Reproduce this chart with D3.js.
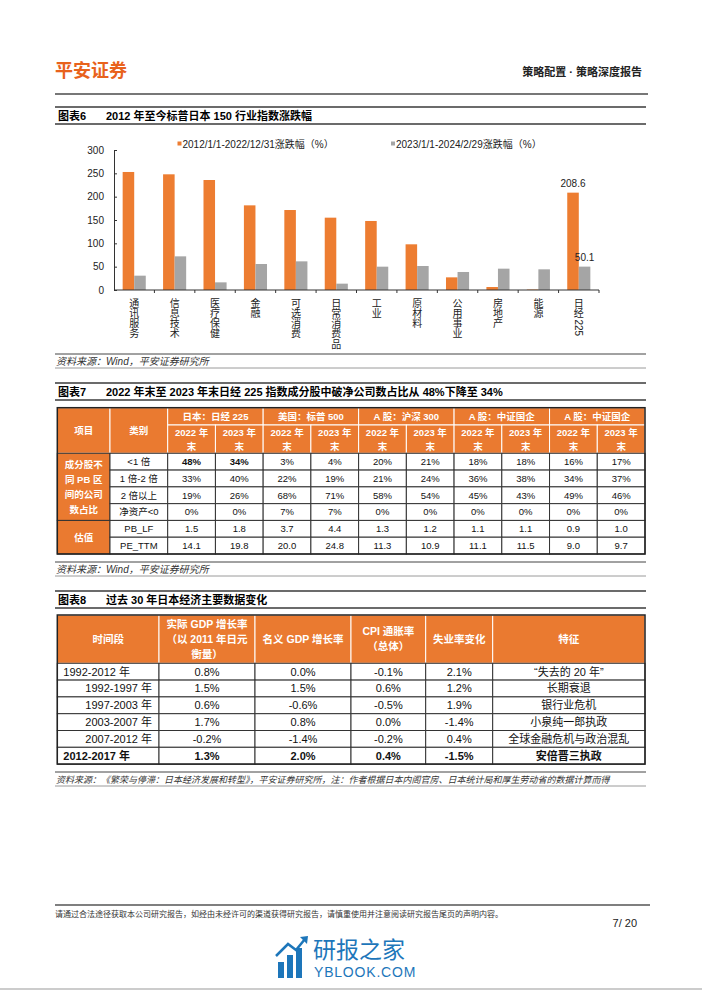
<!DOCTYPE html>
<html>
<head>
<meta charset="utf-8">
<script src="https://cdn.jsdelivr.net/npm/d3@7"></script>
<style>
  body { margin: 0; background: #fff; }
  svg { display: block; font-family: "Liberation Sans", Arial, "Noto Sans CJK SC", sans-serif; }
</style>
</head>
<body>
<svg id="page" width="702" height="991"></svg>
<script>
// ---- chart 6 data
const sectors = ["通讯服务", "信息技术", "医疗保健", "金融", "可选消费", "日常消费品", "工业", "原材料", "公用事业", "房地产", "能源", "日经225"];
const chg2012 = [252.9, 247.9, 235.7, 181.4, 171.4, 155.0, 147.9, 97.9, 27.1, 6.4, 1.0, 208.6];
const chg2023 = [30.7, 72.1, 16.4, 55.7, 61.4, 13.6, 50.0, 51.4, 38.6, 45.7, 44.3, 50.1];
const seriesNames = ["2012/1/1-2022/12/31涨跌幅（%）", "2023/1/1-2024/2/29涨跌幅（%）"];
const yTicks = [0, 50, 100, 150, 200, 250, 300];
const labelled = "日经225";

// ---- table 7 data
const t7Groups = ["日本：日经 225", "美国：标普 500", "A 股：沪深 300", "A 股：中证国企", "A 股：中证国企"];
const t7Years = ["2022 年", "2023 年"];
const t7Cats = ["<1 倍", "1 倍-2 倍", "2 倍以上", "净资产<0", "PB_LF", "PE_TTM"];
const t7Rows = [
  ["48%", "34%", "3%", "4%", "20%", "21%", "18%", "18%", "16%", "17%"],
  ["33%", "40%", "22%", "19%", "21%", "24%", "36%", "38%", "34%", "37%"],
  ["19%", "26%", "68%", "71%", "58%", "54%", "45%", "43%", "49%", "46%"],
  ["0%", "0%", "7%", "7%", "0%", "0%", "0%", "0%", "0%", "0%"],
  ["1.5", "1.8", "3.7", "4.4", "1.3", "1.2", "1.1", "1.1", "0.9", "1.0"],
  ["14.1", "19.8", "20.0", "24.8", "11.3", "10.9", "11.1", "11.5", "9.0", "9.7"]
];

// ---- table 8 data
const t8Head = [["时间段"], ["实际 GDP 增长率", "（以 2011 年日元", "衡量）"], ["名义 GDP 增长率"], ["CPI 通胀率", "（总体）"], ["失业率变化"], ["特征"]];
const t8Periods = ["1992-2012 年", "1992-1997 年", "1997-2003 年", "2003-2007 年", "2007-2012 年", "2012-2017 年"];
const t8SubPeriod = [false, true, true, true, true, false];
const realGdp = ["0.8%", "1.5%", "0.6%", "1.7%", "-0.2%", "1.3%"];
const nomGdp = ["0.0%", "1.5%", "-0.6%", "0.8%", "-1.4%", "2.0%"];
const cpi = ["-0.1%", "0.6%", "-0.5%", "0.0%", "-0.2%", "0.4%"];
const unemp = ["2.1%", "1.2%", "1.9%", "-1.4%", "0.4%", "-1.5%"];
const features = ["“失去的 20 年”", "长期衰退", "银行业危机", "小泉纯一郎执政", "全球金融危机与政治混乱", "安倍晋三执政"];

const ORANGE = "#ED7D31";
const HEAD = "#EA7A30";
const GRAY = "#A5A5A5";

const svg = d3.select("#page");
svg.append("rect").attr("width", 702).attr("height", 991).attr("fill", "#fff");

// ---- page header
svg.append("text").attr("x", 55).attr("y", 77).attr("font-size", 18).attr("font-weight", "bold")
  .attr("fill", "#E8621C").text("平安证券");
svg.append("text").attr("x", 642).attr("y", 76).attr("text-anchor", "end").attr("font-size", 11)
  .attr("font-weight", "bold").attr("fill", "#222").text("策略配置 · 策略深度报告");
svg.append("line").attr("x1", 55).attr("x2", 648).attr("y1", 94).attr("y2", 94)
  .attr("stroke", "#4a4a4a").attr("stroke-width", 1.5);

function titleBar(yTop, yBot, label, text) {
  const g = svg.append("g");
  [yTop, yBot].forEach(yy => g.append("line").attr("x1", 55).attr("x2", 646)
    .attr("y1", yy).attr("y2", yy).attr("stroke", "#3a3a3a").attr("stroke-width", 1.5));
  const ty = (yTop + yBot) / 2 + 4;
  g.append("text").attr("x", 58).attr("y", ty).attr("font-size", 11).attr("font-weight", "bold").text(label);
  g.append("text").attr("x", 106).attr("y", ty).attr("font-size", 11).attr("font-weight", "bold").text(text);
}

function source(yTop, text, fs) {
  const g = svg.append("g");
  g.append("line").attr("x1", 55).attr("x2", 646).attr("y1", yTop).attr("y2", yTop)
    .attr("stroke", "#444").attr("stroke-width", 1);
  g.append("line").attr("x1", 55).attr("x2", 646).attr("y1", yTop + 14).attr("y2", yTop + 14)
    .attr("stroke", "#9a9a9a").attr("stroke-width", 1);
  g.append("text").attr("x", 56).attr("y", yTop + 11).attr("font-size", fs).attr("font-style", "italic")
    .attr("fill", "#333").text(text);
}

// ---- chart 6
titleBar(107, 124, "图表6", "2012 年至今标普日本 150 行业指数涨跌幅");

const x = d3.scaleBand().domain(sectors).range([114, 599]);
const xs = d3.scaleBand().domain([0, 1]).range([0, x.bandwidth()]).paddingOuter(0.75);
const y = d3.scaleLinear().domain([0, 300]).range([290, 150]);
const colors = [ORANGE, GRAY];

const chart = svg.append("g");
const groups = chart.selectAll("g.cat")
  .data(sectors.map((s, i) => ({ s, v: [chg2012[i], chg2023[i]] })))
  .join("g").attr("class", "cat")
  .attr("transform", d => `translate(${x(d.s)},0)`);
groups.selectAll("rect").data(d => d.v.map((v, k) => ({ v, k, s: d.s }))).join("rect")
  .attr("x", d => xs(d.k)).attr("width", xs.bandwidth())
  .attr("y", d => y(d.v)).attr("height", d => y(0) - y(d.v))
  .attr("fill", d => colors[d.k]);
groups.selectAll("text.val").data(d => d.s === labelled ? d.v.map((v, k) => ({ v, k })) : []).join("text")
  .attr("class", "val")
  .attr("x", d => xs(d.k) + xs.bandwidth() / 2).attr("y", d => y(d.v) - 6)
  .attr("text-anchor", "middle").attr("font-size", 10).attr("fill", "#222")
  .text(d => d.v.toFixed(1));

const yAxis = chart.append("g").attr("transform", "translate(114,0)")
  .call(d3.axisLeft(y).tickValues(yTicks).tickSizeInner(-3).tickSizeOuter(0).tickPadding(10));
yAxis.select(".domain").attr("stroke", "#333");
yAxis.selectAll(".tick line").attr("stroke", "#333");
yAxis.selectAll("text").attr("font-size", 10).attr("fill", "#222")
  .attr("font-family", "\"Liberation Sans\", Arial, sans-serif");

const xAxis = chart.append("g").attr("transform", `translate(0,${y(0)})`);
xAxis.append("line").attr("x1", x.range()[0]).attr("x2", x.range()[1]).attr("stroke", "#333");
xAxis.selectAll("line.tk").data(sectors.map(s => x(s) + x.bandwidth())).join("line")
  .attr("class", "tk").attr("x1", d => d).attr("x2", d => d).attr("y1", 0).attr("y2", 3).attr("stroke", "#333");

// vertical category labels: CJK characters stacked, latin runs turned sideways
const charStep = 10.2;
const xl = chart.selectAll("g.xl").data(sectors).join("g").attr("class", "xl")
  .attr("transform", d => `translate(${x(d) + x.bandwidth() / 2},${y(0) + 8})`)
  .attr("font-size", 10).attr("fill", "#222");
xl.each(function (label) {
  const g = d3.select(this);
  let yy = 0;
  label.match(/[0-9A-Za-z]+|./g).forEach(p => {
    if (/^[0-9A-Za-z]+$/.test(p)) {
      g.append("text").attr("transform", `translate(-3.6,${yy + 1}) rotate(90)`).text(p);
      yy += p.length * 5.6 + 1;
    } else {
      g.append("text").attr("y", yy + 8.8).attr("text-anchor", "middle").text(p);
      yy += charStep;
    }
  });
});

// legend
const legX = [177.5, 391];
const leg = chart.selectAll("g.leg").data(seriesNames).join("g").attr("class", "leg")
  .attr("transform", (d, i) => `translate(${legX[i]},141.5)`);
leg.append("rect").attr("width", 4).attr("height", 4).attr("fill", (d, i) => colors[i]);
leg.append("text").attr("x", 5).attr("y", 6).attr("font-size", 10).attr("fill", "#222").text(d => d);

source(354, "资料来源：Wind，平安证券研究所", 10);

// ---- generic table cell drawer
function drawCells(cells) {
  const g = svg.append("g");
  g.selectAll("rect").data(cells).join("rect")
    .attr("x", d => d.x).attr("y", d => d.y).attr("width", d => d.w).attr("height", d => d.h)
    .attr("fill", d => d.fill).attr("stroke", d => d.stroke).attr("stroke-width", 1);
  cells.forEach(c => {
    const n = c.lines.length;
    c.lines.forEach((t, i) => {
      let tx = c.x + c.w / 2, anchor = "middle";
      if (c.align === "start") { tx = c.x + 6; anchor = "start"; }
      if (c.align === "end") { tx = c.x + c.w - 7; anchor = "end"; }
      g.append("text").attr("x", tx)
        .attr("y", c.y + c.h / 2 + (i - (n - 1) / 2) * c.gap)
        .attr("dy", "0.36em").attr("text-anchor", anchor)
        .attr("font-size", c.fs).attr("font-weight", c.bold ? "bold" : "normal")
        .attr("fill", c.color).text(t);
    });
  });
  return g;
}

// ---- table 7
titleBar(383, 400, "图表7", "2022 年末至 2023 年末日经 225 指数成分股中破净公司数占比从 48%下降至 34%");
{
  const left = 57.3, c1 = 110, c2 = 167.7, right = 645;
  const top = 407.7, h1 = 425, h2 = 453.3, bottom = 554;
  const col = d3.scaleBand().domain(d3.range(10)).range([c2, right]);
  const row = d3.scaleBand().domain(d3.range(t7Cats.length)).range([h2, bottom]);
  const bw = col.bandwidth(), rh = row.bandwidth();
  const H = { fill: HEAD, stroke: "#fff", color: "#fff", bold: true, fs: 9.5, gap: 14 };
  const B = { fill: "#fff", stroke: "#333", color: "#111", bold: false, fs: 9.5, gap: 14 };
  const cells = [];
  cells.push({ ...H, x: left, y: top, w: c1 - left, h: h2 - top, lines: ["项目"] });
  cells.push({ ...H, x: c1, y: top, w: c2 - c1, h: h2 - top, lines: ["类别"] });
  t7Groups.forEach((gname, gi) => cells.push({ ...H, x: col(gi * 2), y: top, w: bw * 2, h: h1 - top, lines: [gname] }));
  d3.range(10).forEach(ci => cells.push({ ...H, x: col(ci), y: h1, w: bw, h: h2 - h1, lines: [t7Years[ci % 2], "末"] }));
  cells.push({ ...B, fill: HEAD, color: "#fff", bold: true, gap: 15, x: left, y: row(0), w: c1 - left, h: rh * 4,
    lines: ["成分股不", "同 PB 区", "间的公司", "数占比"] });
  cells.push({ ...B, fill: HEAD, color: "#fff", bold: true, x: left, y: row(4), w: c1 - left, h: rh * 2, lines: ["估值"] });
  t7Cats.forEach((cat, ri) => {
    cells.push({ ...B, x: c1, y: row(ri), w: c2 - c1, h: rh, lines: [cat] });
    t7Rows[ri].forEach((v, ci) => cells.push({ ...B, x: col(ci), y: row(ri), w: bw, h: rh, lines: [v], bold: ri === 0 && ci < 2 }));
  });
  const g = drawCells(cells);
  g.append("rect").attr("x", left).attr("y", top).attr("width", right - left).attr("height", bottom - top)
    .attr("fill", "none").attr("stroke", "#222").attr("stroke-width", 1.5);
}
source(562, "资料来源：Wind，平安证券研究所", 10);

// ---- table 8
titleBar(591, 608, "图表8", "过去 30 年日本经济主要数据变化");
{
  const xs8 = [57.3, 159, 255, 351, 425.7, 492.7, 645];
  const top = 615, hb = 663.3, bottom = 764.1;
  const row = d3.scaleBand().domain(d3.range(t8Periods.length)).range([hb, bottom]);
  const rh = row.bandwidth();
  const H = { fill: HEAD, stroke: "#fff", color: "#fff", bold: true, fs: 10.5, gap: 15 };
  const B = { fill: "#fff", stroke: "#333", color: "#111", fs: 11, gap: 14 };
  const cells = [];
  t8Head.forEach((lines, ci) => cells.push({ ...H, x: xs8[ci], y: top, w: xs8[ci + 1] - xs8[ci], h: hb - top, lines }));
  const cols = [t8Periods, realGdp, nomGdp, cpi, unemp, features];
  t8Periods.forEach((p, ri) => {
    const last = ri === t8Periods.length - 1;
    cols.forEach((arr, ci) => {
      let align = "middle";
      if (ci === 0) align = t8SubPeriod[ri] ? "end" : "start";
      cells.push({ ...B, x: xs8[ci], y: row(ri), w: xs8[ci + 1] - xs8[ci], h: rh, lines: [arr[ri]], align, bold: last });
    });
  });
  const g = drawCells(cells);
  g.append("rect").attr("x", xs8[0]).attr("y", top).attr("width", xs8[6] - xs8[0]).attr("height", bottom - top)
    .attr("fill", "none").attr("stroke", "#222").attr("stroke-width", 1.5);
}
source(772, "资料来源：《繁荣与停滞：日本经济发展和转型》，平安证券研究所，注：作者根据日本内阁官房、日本统计局和厚生劳动省的数据计算而得", 9);

// ---- footer
svg.append("line").attr("x1", 55).attr("x2", 650).attr("y1", 905).attr("y2", 905)
  .attr("stroke", "#555").attr("stroke-width", 1.5);
svg.append("text").attr("x", 55).attr("y", 917).attr("font-size", 8).attr("fill", "#333")
  .text("请通过合法途径获取本公司研究报告，如经由未经许可的渠道获得研究报告，请慎重使用并注意阅读研究报告尾页的声明内容。");
svg.append("text").attr("x", 637).attr("y", 927).attr("text-anchor", "end").attr("font-size", 11)
  .attr("fill", "#222").text("7/ 20");

// watermark
const wm = svg.append("g").attr("fill", "#1D76BA");
const wmBars = [[278, 962, 6, 16], [287, 955, 6, 23], [296, 948, 6, 30]];
wm.selectAll("rect").data(wmBars).join("rect")
  .attr("x", d => d[0]).attr("y", d => d[1]).attr("width", d => d[2]).attr("height", d => d[3]);
wm.append("path").attr("d", "M276,956 L288,944 L296,950 L305,939").attr("fill", "none")
  .attr("stroke", "#1D76BA").attr("stroke-width", 2.5);
wm.append("path").attr("d", "M300,937 L308,936 L307,944 Z");
wm.append("text").attr("x", 313).attr("y", 958).attr("font-size", 23).text("研报之家");
wm.append("text").attr("x", 314).attr("y", 977).attr("font-size", 14).attr("letter-spacing", 0.8).text("YBLOOK.COM");
svg.append("line").attr("x1", 0).attr("x2", 702).attr("y1", 989).attr("y2", 989).attr("stroke", "#999");
</script>
</body>
</html>
